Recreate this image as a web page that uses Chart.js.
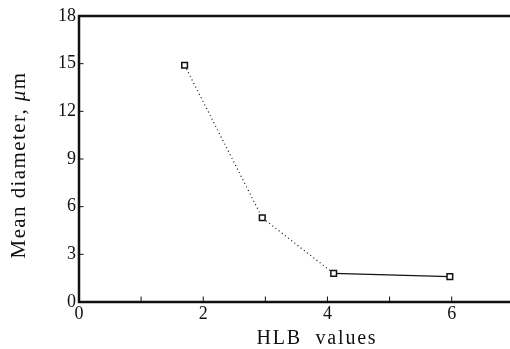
<!DOCTYPE html>
<html><head><meta charset="utf-8">
<script src="https://cdn.jsdelivr.net/npm/chart.js@4/dist/chart.umd.min.js"></script>
<style>html,body{margin:0;padding:0;background:#fff}#wrap{width:510px;height:349px}</style>
</head><body><div id="wrap"><canvas id="c" width="510" height="349"></canvas></div>
<script>
const hlbValues = [1.7, 2.95, 4.1, 5.97];
const meanDiameter = [14.9, 5.3, 1.8, 1.6];
const yTicks = [0, 3, 6, 9, 12, 15, 18];
const xTickLabels = [0, 2, 4, 6];
const yTitleParts = [["Mean diameter, ", "normal"], ["\u03bc", "italic"], ["m", "normal"]];
const xTitle = "HLB  values";

const serif = "'Liberation Serif', 'DejaVu Serif', serif";
const ink = "#111";

function drawParts(ctx, parts, size, spacing, cx, cy) {
  ctx.textBaseline = 'middle';
  ctx.textAlign = 'left';
  ctx.letterSpacing = spacing + 'px';
  let total = 0;
  const widths = parts.map(([t, s]) => { ctx.font = s + " " + size + "px " + serif; const w = ctx.measureText(t).width; total += w; return w; });
  let x = cx - total / 2;
  parts.forEach(([t, s], i) => {
    ctx.font = s + " " + size + "px " + serif;
    ctx.fillText(t, x, cy);
    x += widths[i];
  });
}

const framePlugin = {
  id: 'frame',
  afterDraw(chart) {
    const {ctx, chartArea: a, scales: {x, y}} = chart;
    ctx.save();
    ctx.strokeStyle = ink;
    ctx.lineCap = 'square';
    ctx.lineWidth = 2.5;
    ctx.beginPath();
    ctx.moveTo(a.left, a.top); ctx.lineTo(a.left, a.bottom); ctx.lineTo(chart.width, a.bottom);
    ctx.moveTo(a.left, a.top); ctx.lineTo(chart.width, a.top);
    ctx.stroke();
    ctx.lineWidth = 1;
    ctx.beginPath();
    for (let v = 1; v <= 6; v++) {
      const px = x.getPixelForValue(v);
      ctx.moveTo(px, a.bottom); ctx.lineTo(px, a.bottom - 5);
    }
    yTicks.forEach(v => {
      if (v === 0 || v === 18) return;
      const py = y.getPixelForValue(v);
      ctx.moveTo(a.left, py); ctx.lineTo(a.left + 4, py);
    });
    ctx.stroke();
    ctx.fillStyle = ink;
    drawParts(ctx, [[xTitle, "normal"]], 20, 1.8, 317, 339);
    ctx.translate(19, 165);
    ctx.rotate(-Math.PI / 2);
    drawParts(ctx, yTitleParts, 21, 1.4, 0, 0);
    ctx.restore();
  }
};

new Chart(document.getElementById('c'), {
  type: 'scatter',
  data: {
    datasets: [{
      data: hlbValues.map((v, i) => ({x: v, y: meanDiameter[i]})),
      showLine: true,
      borderColor: ink,
      borderWidth: 1.2,
      pointStyle: 'rect',
      pointRadius: 4,
      pointBorderWidth: 1.5,
      pointBackgroundColor: '#fff',
      pointBorderColor: ink,
      segment: {
        borderDash: ctx => ctx.p0DataIndex < 2 ? [1, 3] : undefined
      }
    }]
  },
  options: {
    responsive: false,
    animation: false,
    devicePixelRatio: 1,
    layout: {padding: {top: 16, right: 0, left: 0, bottom: 0}},
    plugins: {legend: {display: false}, tooltip: {enabled: false}},
    scales: {
      x: {
        type: 'linear', min: 0, max: 6.85,
        afterFit: s => { s.height = 47; s.paddingRight = 0; s.paddingLeft = 0; },
        afterBuildTicks: s => { s.ticks = xTickLabels.map(v => ({value: v})); },
        grid: {display: false, drawTicks: false},
        border: {display: false},
        ticks: {color: ink, font: {family: serif, size: 18}, padding: 1, autoSkip: false, maxRotation: 0}
      },
      y: {
        type: 'linear', min: 0, max: 18,
        afterFit: s => { s.width = 79; },
        afterBuildTicks: s => { s.ticks = yTicks.map(v => ({value: v})); },
        grid: {display: false, drawTicks: false},
        border: {display: false},
        ticks: {color: ink, font: {family: serif, size: 18}, padding: 3}
      }
    }
  },
  plugins: [framePlugin]
});
</script></body></html>
